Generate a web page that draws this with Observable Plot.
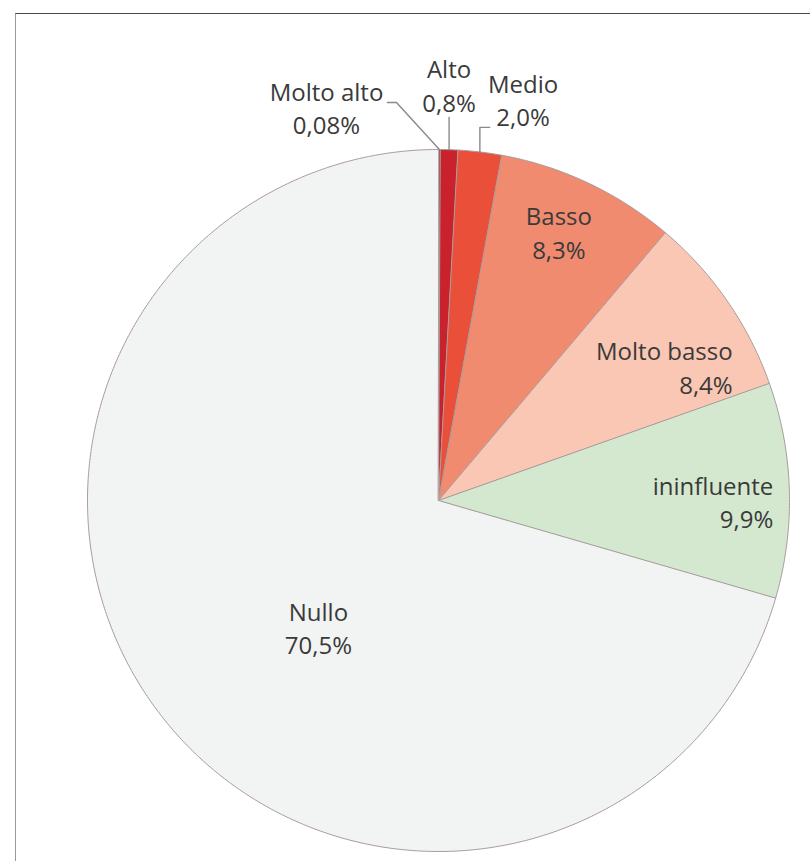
<!DOCTYPE html>
<html>
<head>
<meta charset="utf-8">
<script src="https://cdn.jsdelivr.net/npm/d3@7"></script>
<script src="https://cdn.jsdelivr.net/npm/@observablehq/plot@0.6"></script>
<style>
  html, body { margin: 0; padding: 0; background: #ffffff; }
  #wrap { position: relative; width: 810px; height: 861px; overflow: hidden; }
  #frame { position: absolute; left: 15px; top: 13px; width: 820px; height: 870px;
           border-top: 1.5px solid #4a4a4a; border-left: 1px solid #9a9a9a; pointer-events: none; }
</style>
</head>
<body>
<div id="wrap"><div id="frame"></div></div>
<script>
// ---- data ----
const categories = ["Molto alto", "Alto", "Medio", "Basso", "Molto basso", "ininfluente", "Nullo"];
const values = [0.08, 0.8, 2.0, 8.3, 8.4, 9.9, 70.5];
const valueLabels = ["0,08%", "0,8%", "2,0%", "8,3%", "8,4%", "9,9%", "70,5%"];
const colors = ["#8e1b1f", "#c9222c", "#ea4f3a", "#f08b70", "#f9c7b3", "#d4e8cf", "#f2f3f3"];

// ---- layout (label placement, polar: angle in degrees clockwise from top, radius in pie radii) ----
const labelPlacement = [
  {angle: -15.9, r: 1.165, anchor: "middle"},
  {angle: 1.45, r: 1.186, anchor: "middle"},
  {angle: 11.9, r: 1.168, anchor: "middle"},
  {angle: 24.1, r: 0.840, anchor: "middle"},
  {angle: 65.5, r: 0.921, anchor: "end"},
  {angle: 90.0, r: 0.954, anchor: "end"},
  {angle: 223.6, r: 0.496, anchor: "middle"}
];

// ---- geometry from the values ----
const arcs = d3.pie().sort(null).value(d => d)(values);
const slicePoints = [];
arcs.forEach((a, i) => {
  const n = Math.max(2, Math.ceil((a.endAngle - a.startAngle) / (Math.PI / 360)));
  slicePoints.push({cat: categories[i], color: colors[i], x: 0, y: 0});
  for (let k = 0; k <= n; k++) {
    const t = a.startAngle + (a.endAngle - a.startAngle) * k / n;
    slicePoints.push({cat: categories[i], color: colors[i], x: Math.sin(t), y: Math.cos(t)});
  }
});

const labelData = categories.map((c, i) => {
  const p = labelPlacement[i];
  const t = p.angle * Math.PI / 180;
  return {text: c + "\n" + valueLabels[i], x: p.r * Math.sin(t), y: p.r * Math.cos(t), anchor: p.anchor};
});

// leader lines for the three small outer slices
const mid = i => (arcs[i].startAngle + arcs[i].endAngle) / 2;
const leaders = [];
{
  const m0 = mid(0);
  leaders.push({id: 0, x: Math.sin(m0), y: Math.cos(m0)});
  leaders.push({id: 0, x: -0.1197, y: 1.134});
  leaders.push({id: 0, x: -0.1453, y: 1.134});
  const m1 = mid(1);
  leaders.push({id: 1, x: Math.sin(m1), y: Math.cos(m1)});
  leaders.push({id: 1, x: Math.sin(m1), y: 1.091});
  const m2 = mid(2);
  leaders.push({id: 2, x: Math.sin(m2), y: Math.cos(m2)});
  leaders.push({id: 2, x: Math.sin(m2), y: 1.063});
  leaders.push({id: 2, x: Math.sin(m2) + 0.028, y: 1.063});
}

const chart = Plot.plot({
  width: 810,
  height: 861,
  margin: 0,
  style: {fontFamily: "'Open Sans', sans-serif", background: "transparent"},
  x: {domain: [-1, 1], range: [87, 789], axis: null},
  y: {domain: [-1, 1], range: [851, 149], axis: null},
  marks: [
    Plot.line(slicePoints, {
      x: "x", y: "y", z: "cat", fill: "color",
      stroke: "#a89c9c", strokeWidth: 1, curve: "linear-closed",
      style: "filter: drop-shadow(2px 3px 3px rgba(0,0,0,0.18))"
    }),
    Plot.line(leaders, {x: "x", y: "y", z: "id", stroke: "#8a8a8a", strokeWidth: 1.4}),
    Plot.text(labelData.filter(d => d.anchor === "middle"), {
      x: "x", y: "y", text: "text", textAnchor: "middle",
      fontSize: 24, lineHeight: 1.38, fill: "#3a3a3a"
    }),
    Plot.text(labelData.filter(d => d.anchor === "end"), {
      x: "x", y: "y", text: "text", textAnchor: "end",
      fontSize: 24, lineHeight: 1.38, fill: "#3a3a3a"
    })
  ]
});
document.getElementById("wrap").prepend(chart);
</script>
</body>
</html>
